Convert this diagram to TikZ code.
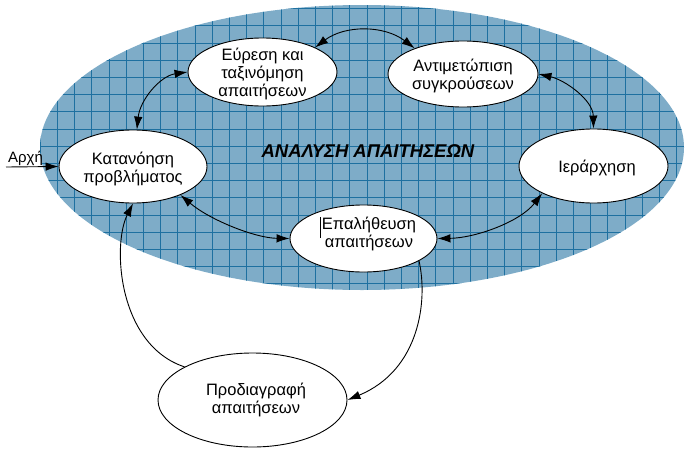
\documentclass[tikz,border=0pt]{standalone}
\usepackage{fontspec}
\setmainfont{Liberation Sans}
\usetikzlibrary{arrows.meta,shapes.geometric}
\definecolor{fillblue}{RGB}{126,172,200}
\definecolor{gridblue}{RGB}{30,112,160}
\begin{document}
\begin{tikzpicture}[x=1pt,y=-1pt,
  oval/.style={ellipse,draw=black,line width=0.9pt,fill=white,inner sep=0pt},
  lbl/.style={align=center,font=\fontsize{16.5}{18}\selectfont,inner sep=0pt},
  conn/.style={line width=0.9pt,-{Latex[length=13pt,width=8.5pt]}},
  bconn/.style={line width=0.9pt,{Latex[length=13pt,width=8.5pt]}-{Latex[length=13pt,width=8.5pt]}}]
\useasboundingbox (0,0) rectangle (690,455);
% background ellipse with grid
\begin{scope}
  \clip (362,147.5) ellipse [x radius=322pt, y radius=142.5pt];
  \fill[fillblue] (0,0) rectangle (690,455);
  \foreach \i in {0,...,40} \draw[gridblue,line width=0.55pt] ({5.6+17.2*\i},0) -- ++(0,300);
  \foreach \j in {0,...,17} \draw[gridblue,line width=0.55pt] (0,{8.4+17.2*\j}) -- ++(700,0);
\end{scope}
% ellipses
\node[oval,minimum width=148pt,minimum height=73pt] (K) at (133,166.5) {};
\node[oval,minimum width=149pt,minimum height=68pt] (E) at (262.5,72) {};
\node[oval,minimum width=150pt,minimum height=66pt] (A) at (463,74) {};
\node[oval,minimum width=149pt,minimum height=74pt] (I) at (593.5,166) {};
\node[oval,minimum width=147pt,minimum height=67pt] (V) at (363.5,238.5) {};
\node[oval,minimum width=189pt,minimum height=94pt] (P) at (252.5,400) {};
% texts
\node[lbl] (Kt) at (133,169) {Κατανόηση\\προβλήματος};
\node[lbl] (Et) at (262.5,74) {Εύρεση και\\ταξινόμηση\\απαιτήσεων};
\node[lbl] (At) at (463,76) {Αντιμετώπιση\\συγκρούσεων};
\node[lbl] (It) at (597,168) {Ιεράρχηση};
\node[lbl] (Vt) at (369,234) {Επαλήθευση\\απαιτήσεων};
\node[lbl] (Pt) at (256,400) {Προδιαγραφή\\απαιτήσεων};
\node[font=\fontsize{18.5}{21}\selectfont\bfseries\itshape,inner sep=0pt] (T) at (368,151) {ΑΝΑΛΥΣΗ ΑΠΑΙΤΗΣΕΩΝ};
\node[font=\fontsize{15}{17}\selectfont,anchor=base west,inner sep=0pt] (S) at (8,162) {Αρχή};
% text cursor
\draw[line width=1pt] (320,217) -- (320,238);
% connectors
\coordinate (st) at (6,167);
\draw[conn] (st) -- (K.west);
\draw[bconn] (E.25) .. controls (345,25) and (384,25) .. (A.152);
\draw[bconn] (A.east) .. controls (565,80) and (593,100) .. (I.north);
\draw[bconn] (V.east) .. controls (475,238) and (520,222) .. (I.208);
\draw[bconn] (K.-31) .. controls (210,220) and (255,238) .. (V.west);
\draw[bconn] (K.84) .. controls (140,100) and (160,76) .. (E.west);
\draw[conn] (V.-22) .. controls (428,300) and (420,370) .. (P.east);
\draw[conn] (P.154) .. controls (118,345) and (112,245) .. (K.south);
\end{tikzpicture}
\end{document}
